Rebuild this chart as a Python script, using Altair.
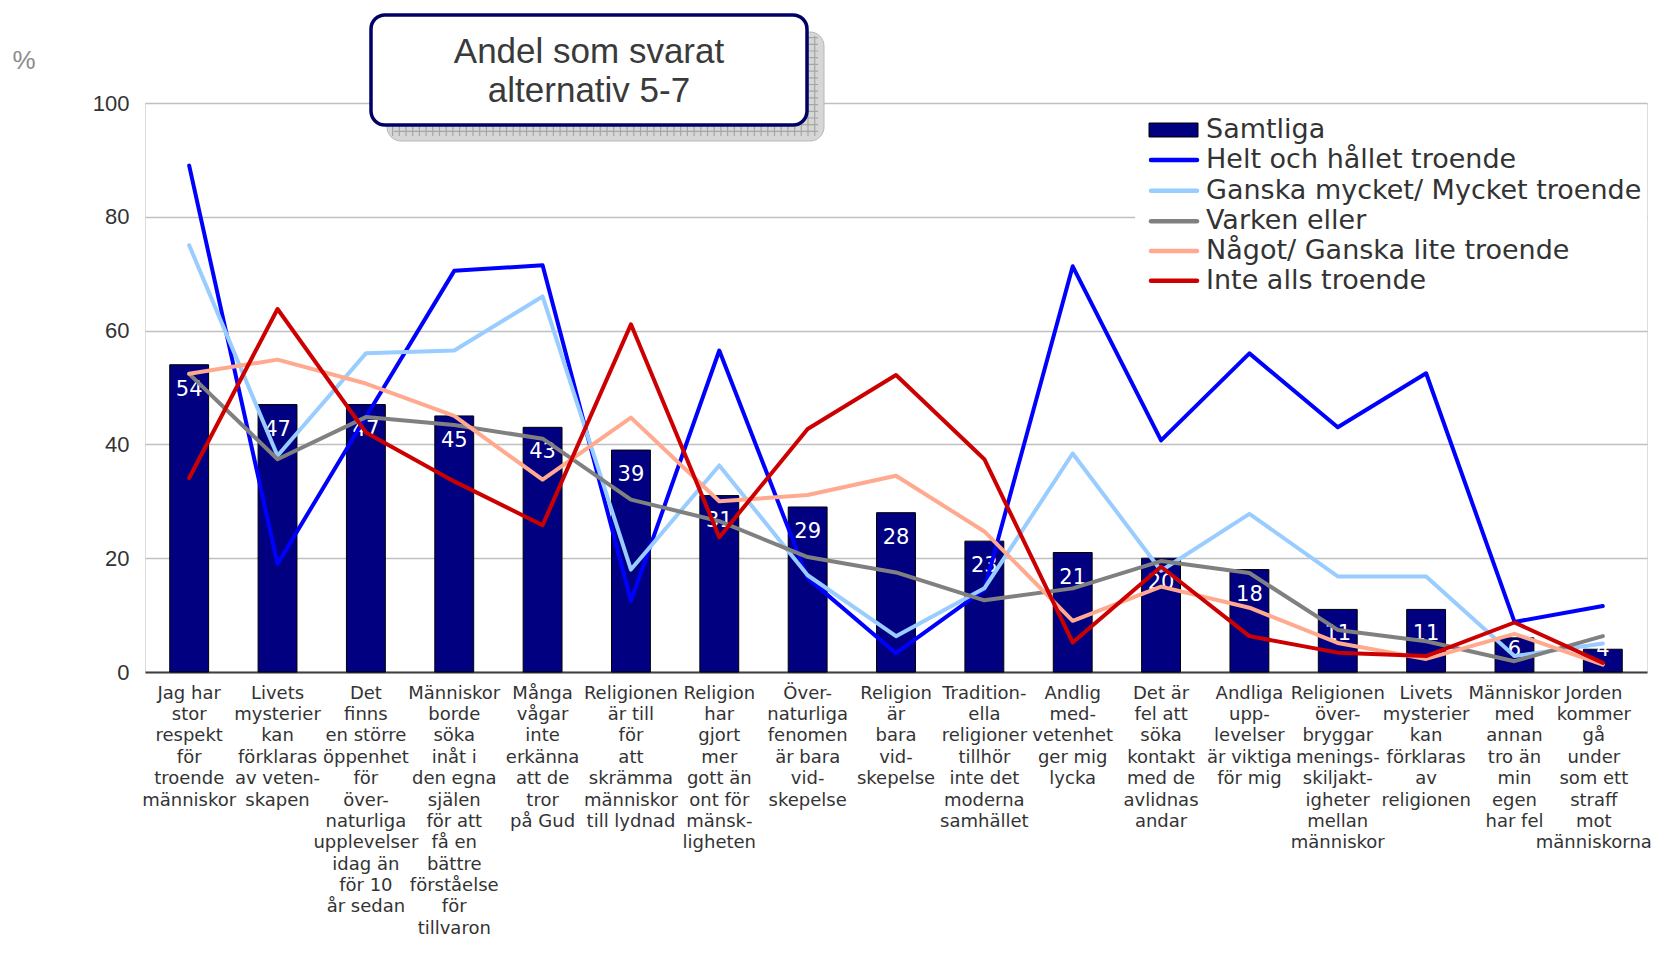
import altair as alt
import pandas as pd

categories = [
    "Jag har|stor|respekt|för|troende|människor",
    "Livets|mysterier|kan|förklaras|av veten-|skapen",
    "Det|finns|en större|öppenhet|för|över-|naturliga|upplevelser|idag än|för 10|år sedan",
    "Människor|borde|söka|inåt i|den egna|själen|för att|få en|bättre|förståelse|för|tillvaron",
    "Många|vågar|inte|erkänna|att de|tror|på Gud",
    "Religionen|är till|för|att|skrämma|människor|till lydnad",
    "Religion|har|gjort|mer|gott än|ont för|mänsk-|ligheten",
    "Över-|naturliga|fenomen|är bara|vid-|skepelse",
    "Religion|är|bara|vid-|skepelse",
    "Tradition-|ella|religioner|tillhör|inte det|moderna|samhället",
    "Andlig|med-|vetenhet|ger mig|lycka",
    "Det är|fel att|söka|kontakt|med de|avlidnas|andar",
    "Andliga|upp-|levelser|är viktiga|för mig",
    "Religionen|över-|bryggar|menings-|skiljakt-|igheter|mellan|människor",
    "Livets|mysterier|kan|förklaras|av|religionen",
    "Människor|med|annan|tro än|min|egen|har fel",
    "Jorden|kommer|gå|under|som ett|straff|mot|människorna",
]

samtliga = [54, 47, 47, 45, 43, 39, 31, 29, 28, 23, 21, 20, 18, 11, 11, 6, 4]

helt = [89, 19, 44.8, 70.5, 71.5, 12.5, 56.5, 16.5, 3.3, 14.5, 71.3, 40.7, 56, 43, 52.5, 8.8, 11.6]
ganska = [75, 38, 56, 56.5, 66, 18, 36.3, 17, 6.3, 14.7, 38.4, 17.8, 27.8, 16.8, 16.8, 2.8, 5]
varken = [52.4, 37.4, 44.8, 43.4, 41, 30.3, 26.5, 20.2, 17.5, 12.6, 14.7, 19.5, 17.4, 7.4, 5.4, 1.9, 6.3]
nagot = [52.4, 54.9, 50.7, 45, 33.8, 44.7, 30, 31.1, 34.5, 24.7, 9, 15, 11.3, 5.1, 2.3, 6.7, 1.3]
inte = [34.1, 63.8, 42.1, 33.5, 25.8, 61.1, 23.7, 42.7, 52.2, 37.4, 5.2, 18.5, 6.3, 3.4, 2.8, 8.7, 1.6]

bar_name = "Samtliga"
line_names = ["Helt och hållet troende", "Ganska mycket/ Mycket troende",
              "Varken eller", "Något/ Ganska lite troende", "Inte alls troende"]
line_values = [helt, ganska, varken, nagot, inte]
line_colors = ["#0000FF", "#99CCFF", "#808080", "#FFA98F", "#CC0000"]
bar_color = "#000080"

title_lines = ["Andel som svarat", "alternativ 5-7"]

# ---- data tables
bars_df = pd.DataFrame({"cat": categories, "value": samtliga})
rows = []
for s_i, (name, vals) in enumerate(zip(line_names, line_values)):
    for c, v in zip(categories, vals):
        rows.append({"cat": c, "series": name, "value": v, "order": s_i})
lines_df = pd.DataFrame(rows)

W, H = 1502, 569

x_enc = alt.X(
    "cat:N", sort=categories, title=None,
    scale=alt.Scale(paddingInner=0.56, paddingOuter=0.28),
    axis=alt.Axis(
        labelExpr="split(datum.value, '|')", labelAngle=0, labelFont="DejaVu Sans",
        labelFontSize=18, labelLineHeight=21.4, labelColor="#333333", labelPadding=12,
        labelBaseline="top", labelLimit=400, labelOverlap=False, ticks=False,
        labelOffset={"condition": {"test": "indexof(datum.value, 'Jorden') == 0", "value": -9}, "value": 0},
        domainColor="#404040", domainWidth=2, grid=False,
    ),
)
y_enc = alt.Y(
    "value:Q", title=None, scale=alt.Scale(domain=[0, 100], nice=False),
    axis=alt.Axis(
        values=[0, 20, 40, 60, 80, 100], grid=True, gridColor="#c0c0c0", gridWidth=1.5,
        domain=False, ticks=False, labelFont="Liberation Sans", labelFontSize=22,
        labelColor="#333333", labelPadding=16,
    ),
)

bars = alt.Chart(bars_df).mark_bar(color=bar_color, stroke="#000000", strokeWidth=1).encode(
    x=x_enc, y=y_enc
)
bar_labels = alt.Chart(bars_df).transform_calculate(
    label_y="max(datum.value - 4.4, 3.8)"
).mark_text(
    color="white", font="DejaVu Sans", fontSize=21, baseline="middle"
).encode(x=alt.X("cat:N", sort=categories), y="label_y:Q", text="value:Q")

lines = []
for name, col in zip(line_names, line_colors):
    sub = lines_df[lines_df.series == name]
    lines.append(
        alt.Chart(sub).mark_line(color=col, strokeWidth=4, strokeJoin="round", strokeCap="round").encode(
            x=alt.X("cat:N", sort=categories), y="value:Q"
        )
    )

one = pd.DataFrame({"a": [0]})

# title box with hatched shadow
shadow = alt.Chart(one).mark_rect(
    fill="#d6d6d6", stroke="#b8b8b8", strokeWidth=1, cornerRadius=14
).encode(x=alt.value(242), x2=alt.value(679), y=alt.value(-71), y2=alt.value(38))
hatch_v = alt.Chart(one).mark_rule(
    color="#a6a6a6", strokeWidth=100, strokeDash=[1.2, 5.5], strokeCap="butt"
).encode(x=alt.value(247), x2=alt.value(675), y=alt.value(-17))
hatch_h = alt.Chart(one).mark_rule(
    color="#a6a6a6", strokeWidth=424, strokeDash=[1.2, 5.5], strokeCap="butt"
).encode(x=alt.value(461), y=alt.value(-66), y2=alt.value(34))
box = alt.Chart(one).mark_rect(
    fill="white", stroke="#000066", strokeWidth=3.5, cornerRadius=14
).encode(x=alt.value(226), x2=alt.value(662), y=alt.value(-88), y2=alt.value(22))
title_txt = []
for i, t in enumerate(title_lines):
    title_txt.append(
        alt.Chart(one).mark_text(
            text=t, font="Liberation Sans", fontSize=35, color="#3a3a3a",
            align="center", baseline="middle",
        ).encode(x=alt.value(444), y=alt.value(-51 + i * 39))
    )
pct = alt.Chart(one).mark_text(
    text="%", font="Liberation Sans", fontSize=26, color="#8c8c8c", align="center", baseline="middle"
).encode(x=alt.value(-121), y=alt.value(-42))

# legend
leg_bg = alt.Chart(one).mark_rect(fill="white").encode(
    x=alt.value(990), x2=alt.value(1502), y=alt.value(10), y2=alt.value(194)
)
leg_layers = [leg_bg]
row_y = [26.5, 57, 87.7, 118.2, 148, 177.7]
leg_layers.append(
    alt.Chart(one).mark_rect(fill=bar_color, stroke="#000000", strokeWidth=1).encode(
        x=alt.value(1004), x2=alt.value(1053), y=alt.value(20), y2=alt.value(34)
    )
)
for i, (name, col) in enumerate(zip(line_names, line_colors)):
    leg_layers.append(
        alt.Chart(one).mark_rule(color=col, strokeWidth=4.5, strokeCap="round").encode(
            x=alt.value(1006), x2=alt.value(1052), y=alt.value(row_y[i + 1])
        )
    )
for i, name in enumerate([bar_name] + line_names):
    leg_layers.append(
        alt.Chart(one).mark_text(
            text=name, font="DejaVu Sans", fontSize=27, color="#333333", align="left", baseline="middle"
        ).encode(x=alt.value(1061), y=alt.value(row_y[i]))
    )

chart = alt.layer(
    bars, bar_labels, *lines, shadow, hatch_v, hatch_h, box, *title_txt, pct, *leg_layers
).properties(
    width=W, height=H,
    autosize=alt.AutoSizeParams(type="none"),
    padding={"left": 137, "top": 95, "right": 6, "bottom": 266},
).configure_view(stroke=None).configure(background="white")

chart.save("out.html", embed_options={"renderer": "svg", "actions": False})
